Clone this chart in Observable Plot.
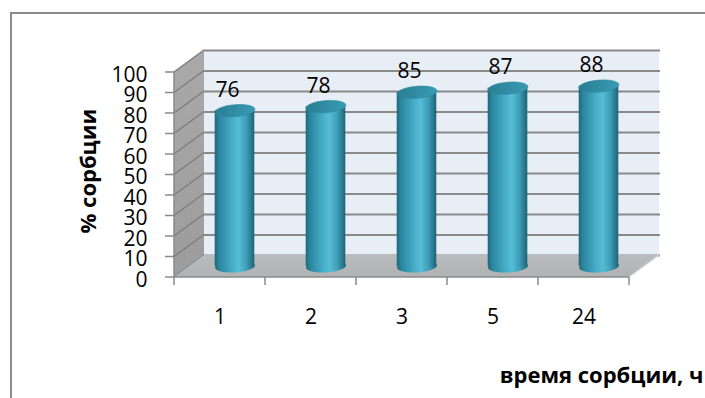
<!DOCTYPE html>
<html>
<head>
<meta charset="utf-8">
<script src="https://cdn.jsdelivr.net/npm/d3@7"></script>
<script src="https://cdn.jsdelivr.net/npm/@observablehq/plot@0.6"></script>
<style>
  body { margin: 0; background: #fff; }
  #chart { position: relative; width: 705px; height: 398px; overflow: hidden; }
  #frame { position: absolute; left: 10px; top: 12px; width: 720px; height: 420px;
           border-left: 2px solid #8c8c8c; border-top: 2px solid #8c8c8c; }
  #chart svg { position: absolute; left: 0; top: 0; }
</style>
</head>
<body>
<div id="chart"><div id="frame"></div></div>
<script>
// Sorption time (hours) and sorption degree (%)
const hours = ["1", "2", "3", "5", "24"];
const sorption = [76, 78, 85, 87, 88];
const yTicks = [0, 10, 20, 30, 40, 50, 60, 70, 80, 90, 100];
const yTitle = "% сорбции";
const xTitle = "время сорбции, ч";

const rows = hours.map((hour, i) => ({hour, value: sorption[i]}));

// Layout of the pseudo-3D box
const W = 705, H = 398;
const ML = 203, MR = 45, MT = 50, MB = 143;
const DX = -30, DY = 22;          // offset of the front edge relative to the back wall
const CYL_RX = 20, CYL_RY = 6;    // cylinder radius and ellipse flattening
const BAND = (W - ML - MR) / hours.length;
const CYL_INSET = (BAND - 2 * CYL_RX) / 2;

// Flattened, slightly tilted ellipse usable as a dot symbol
function ellipseSymbol(rx, ry, angle) {
  const c = Math.cos(angle), s = Math.sin(angle), k = 0.5522847498;
  const p = (x, y) => [x * c - y * s, x * s + y * c];
  return {
    draw(ctx) {
      const pts = [
        [[rx, k * ry], [k * rx, ry], [0, ry]],
        [[-k * rx, ry], [-rx, k * ry], [-rx, 0]],
        [[-rx, -k * ry], [-k * rx, -ry], [0, -ry]],
        [[k * rx, -ry], [rx, -k * ry], [rx, 0]]
      ];
      ctx.moveTo(...p(rx, 0));
      for (const [a, b, e] of pts) ctx.bezierCurveTo(...p(...a), ...p(...b), ...p(...e));
      ctx.closePath();
    }
  };
}

function gradient(parent, id, stops, vertical = false) {
  const g = parent.append("linearGradient").attr("id", id)
    .attr("x1", 0).attr("y1", 0).attr("x2", vertical ? 0 : 1).attr("y2", vertical ? 1 : 0);
  for (const [o, col] of stops) g.append("stop").attr("offset", o).attr("stop-color", col);
}

const defs = () => {
  const d = d3.create("svg:defs");
  gradient(d, "cylBody", [[0, "#1e6879"], [0.1, "#2b849d"], [0.42, "#45abc6"], [0.6, "#57bcd6"], [0.8, "#3d9db7"], [1, "#1d6475"]]);
  gradient(d, "cylTop", [[0, "#2a7d92"], [0.6, "#3290a8"], [1, "#3a9bb3"]]);
  gradient(d, "sideWall", [[0, "#a9a9a9"], [1, "#9c9c9c"]], true);
  gradient(d, "floor", [[0, "#b9bbbd"], [1, "#b0b2b4"]], true);
  return d.node();
};

// Back wall and left side wall with its slanted gridlines
const walls = (index, {x, y}) => {
  const bw = x.bandwidth();
  const x0 = x(hours[0]), x1 = x(hours[hours.length - 1]) + bw;
  const y0 = y(0), y1 = y(100);
  const g = d3.create("svg:g");
  g.append("rect").attr("x", x0).attr("y", y1).attr("width", x1 - x0).attr("height", y0 - y1)
    .attr("fill", "#e7eef6");
  g.append("path")
    .attr("d", `M${x0},${y1}L${x0},${y0}L${x0 + DX},${y0 + DY}L${x0 + DX},${y1 + DY}Z`)
    .attr("fill", "url(#sideWall)");
  for (const t of yTicks) {
    g.append("line").attr("x1", x0 + DX).attr("y1", y(t) + DY).attr("x2", x0).attr("y2", y(t))
      .attr("stroke", "#7e7e7e").attr("stroke-width", 1.5);
  }
  return g.node();
};

// Floor, front edges and tick marks of both axes
const floor = (index, {x, y}) => {
  const bw = x.bandwidth();
  const x0 = x(hours[0]), x1 = x(hours[hours.length - 1]) + bw;
  const y0 = y(0), y1 = y(100);
  const g = d3.create("svg:g");
  g.append("path")
    .attr("d", `M${x0},${y0}L${x1},${y0}L${x1 + DX},${y0 + DY}L${x0 + DX},${y0 + DY}Z`)
    .attr("fill", "url(#floor)");
  g.append("line").attr("x1", x1).attr("y1", y0).attr("x2", x1 + DX).attr("y2", y0 + DY)
    .attr("stroke", "#d4d6d8").attr("stroke-width", 1.2);
  g.append("line").attr("x1", x0 + DX).attr("y1", y0 + DY).attr("x2", x1 + DX).attr("y2", y0 + DY)
    .attr("stroke", "#8a8a8a").attr("stroke-width", 1.5);
  g.append("line").attr("x1", x0 + DX).attr("y1", y1 + DY).attr("x2", x0 + DX).attr("y2", y0 + DY)
    .attr("stroke", "#8a8a8a").attr("stroke-width", 1.5);
  for (const t of yTicks) {
    g.append("line").attr("x1", x0 + DX - 9).attr("x2", x0 + DX).attr("y1", y(t) + DY).attr("y2", y(t) + DY)
      .attr("stroke", "#8a8a8a").attr("stroke-width", 1.5);
  }
  for (let i = 0; i <= hours.length; ++i) {
    const xb = x0 + i * bw + DX;
    g.append("line").attr("x1", xb).attr("x2", xb).attr("y1", y0 + DY).attr("y2", y0 + DY + 8)
      .attr("stroke", "#8a8a8a").attr("stroke-width", 1.5);
  }
  return g.node();
};

const plot = Plot.plot({
  width: W,
  height: H,
  marginLeft: ML,
  marginRight: MR,
  marginTop: MT,
  marginBottom: MB,
  style: {fontFamily: "'Open Sans', sans-serif", background: "transparent", overflow: "visible"},
  x: {type: "band", domain: hours, padding: 0, axis: null},
  y: {domain: [0, 100], axis: null},
  marks: [
    defs,
    walls,
    Plot.gridY(yTicks, {stroke: "#8a8a8a", strokeOpacity: 1, strokeWidth: 2}),
    floor,
    // y tick labels at the front edge
    Plot.text(yTicks, {y: d => d, frameAnchor: "left", text: d => String(d),
      textAnchor: "end", lineAnchor: "middle",
      dx: DX - 26, dy: DY + 2.5, fontSize: 21, fill: "#000"}),
    // x tick labels
    Plot.text(hours, {x: d => d, frameAnchor: "bottom", text: d => d,
      textAnchor: "middle", lineAnchor: "middle",
      dx: DX, dy: DY + 40, fontSize: 21, fill: "#000"}),
    // cylinders: bottom cap, body, top cap
    Plot.dot(rows, {x: "hour", y: () => 0, symbol: ellipseSymbol(CYL_RX, CYL_RY, -0.06),
      fill: "url(#cylBody)", stroke: null, dx: DX / 2, dy: DY / 2}),
    Plot.barY(rows, {x: "hour", y: "value", fill: "url(#cylBody)",
      insetLeft: CYL_INSET, insetRight: CYL_INSET, dx: DX / 2, dy: DY / 2}),
    Plot.dot(rows, {x: "hour", y: "value", symbol: ellipseSymbol(CYL_RX, CYL_RY, -0.08),
      fill: "url(#cylTop)", stroke: "#2f8aa1", strokeWidth: 0.6, dx: DX / 2, dy: DY / 2}),
    // value labels
    Plot.text(rows, {x: "hour", y: "value", text: d => String(d.value),
      textAnchor: "middle", lineAnchor: "middle",
      dx: DX / 2 - 7.5, dy: DY / 2 - 20.5, fontSize: 21, fill: "#000"}),
    // axis titles
    Plot.text([yTitle], {frameAnchor: "left", text: d => d, rotate: -90,
      textAnchor: "middle", lineAnchor: "middle",
      dx: -115, dy: 18, fontSize: 22, fontWeight: "bold", fill: "#000"}),
    Plot.text([xTitle], {frameAnchor: "bottom-right", text: d => d,
      textAnchor: "end", lineAnchor: "middle",
      dx: 43, dy: 120, fontSize: 22, fontWeight: "bold", fill: "#000"})
  ]
});

document.getElementById("chart").appendChild(plot);
</script>
</body>
</html>
